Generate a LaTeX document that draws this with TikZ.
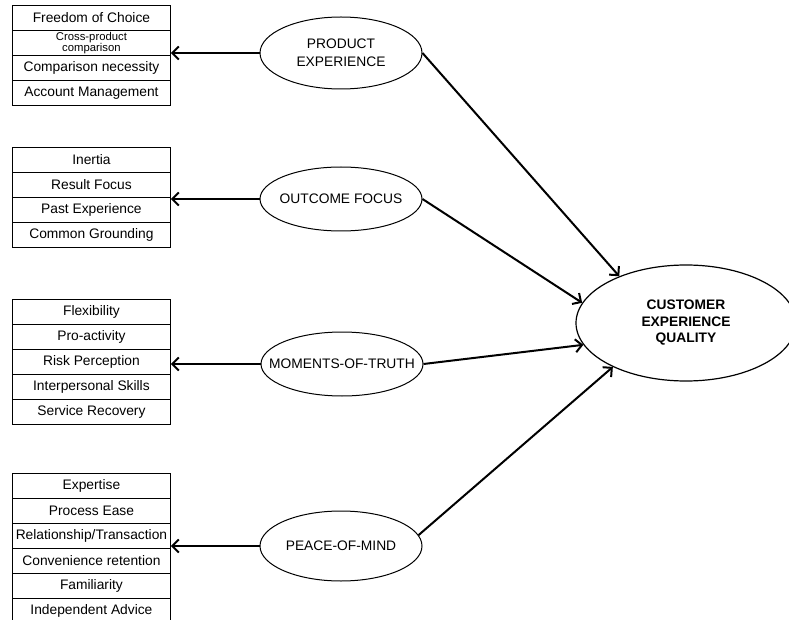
\documentclass[tikz,border=0pt]{standalone}
\usepackage{fontspec}
\setmainfont{Liberation Sans}
\usetikzlibrary{arrows.meta,shapes.geometric}

% zero-width line so the ellipse keeps its own size
\newcommand\zw[1]{\makebox[0pt]{#1}}

\begin{document}
\begin{tikzpicture}[x=1pt,y=-1pt,
  item/.style={draw, line width=0.9pt, minimum width=158pt, minimum height=25pt,
    inner sep=0pt, anchor=north west, font=\fontsize{13.8}{15}\selectfont},
  factor/.style={ellipse, draw, line width=1pt, minimum width=162pt,
    minimum height=66pt, inner sep=0pt, align=center,
    font=\fontsize{13.8}{17.5}\selectfont},
  link/.style={line width=2pt, -{Straight Barb[length=6.5pt,width=13pt]}}
]
\useasboundingbox (0,0) rectangle (789,620);

% product experience items
\node[item] (a1) at (12,5)  {Freedom of Choice};
\node[item, align=center, font=\fontsize{11.3}{11.5}\selectfont] (a2) at (12,30) {Cross-product\\comparison};
\node[item] (a3) at (12,55) {Comparison necessity};
\node[item] (a4) at (12,80) {Account Management};

% outcome focus items
\node[item] (b1) at (12,147) {Inertia};
\node[item] (b2) at (12,172) {Result Focus};
\node[item] (b3) at (12,197) {Past Experience};
\node[item] (b4) at (12,222) {Common Grounding};

% moments-of-truth items
\node[item] (c1) at (12,299) {Flexibility};
\node[item] (c2) at (12,324) {Pro-activity};
\node[item] (c3) at (12,349) {Risk Perception};
\node[item] (c4) at (12,374) {Interpersonal Skills};
\node[item] (c5) at (12,399) {Service Recovery};

% peace-of-mind items
\node[item] (d1) at (12,473) {Expertise};
\node[item] (d2) at (12,498) {Process Ease};
\node[item] (d3) at (12,523) {Relationship/Transaction};
\node[item] (d4) at (12,548) {Convenience retention};
\node[item] (d5) at (12,573) {Familiarity};
\node[item] (d6) at (12,598) {Independent Advice};

% first-order factors
\node[factor, minimum height=72pt] (pe) at (341,53)  {\zw{PRODUCT}\\\zw{EXPERIENCE}};
\node[factor, minimum height=64pt] (of) at (341,199) {\zw{OUTCOME FOCUS}};
\node[factor, minimum height=64pt] (mt) at (342,364) {\zw{MOMENTS-OF-TRUTH}};
\node[factor, minimum height=70pt] (pm) at (341,546) {\zw{PEACE-OF-MIND}};

% overall construct
\node[ellipse, draw, line width=1.2pt, minimum width=220pt, minimum height=116pt,
  inner sep=0pt, align=center, font=\bfseries\fontsize{13.8}{16.5}\selectfont]
  (cxq) at (686,323) {\zw{CUSTOMER}\\\zw{EXPERIENCE}\\\zw{QUALITY}};

% factors to their items
\draw[link] (pe.west) -- (pe.west -| a2.east);
\draw[link] (of.west) -- (of.west -| b2.east);
\draw[link] (mt.west) -- (mt.west -| c3.east);
\draw[link] (pm.west) -- (pm.west -| d3.east);

% factors to customer experience quality
\draw[link] (pe.east) -- (cxq.145);
\draw[link] (of.east) -- (cxq.169);
\draw[link] (mt.east) -- (cxq.192);
\draw[link] (pm.8)    -- (cxq.211);
\end{tikzpicture}
\end{document}
